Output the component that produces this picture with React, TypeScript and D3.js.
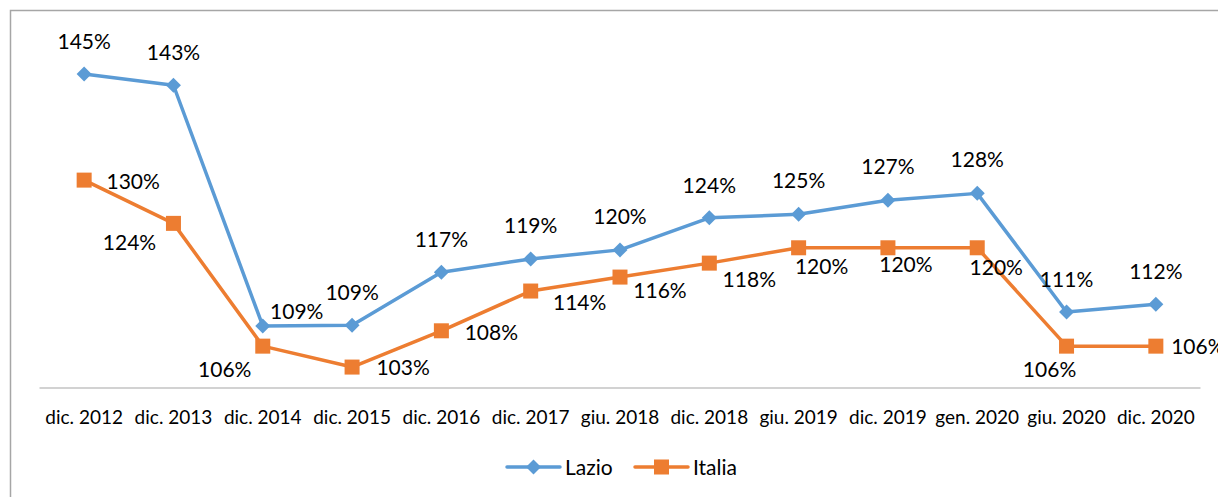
import React from "react";
import * as d3 from "d3";

const categories = ["dic. 2012","dic. 2013","dic. 2014","dic. 2015","dic. 2016","dic. 2017","giu. 2018","dic. 2018","giu. 2019","dic. 2019","gen. 2020","giu. 2020","dic. 2020"];
const lazio = [145.0,143.4,108.9,109.0,116.6,118.5,119.8,124.4,124.9,126.9,127.9,110.9,112.0];
const italia = [129.8,123.6,106.0,103.0,108.2,113.9,115.9,117.9,120.1,120.1,120.1,106.0,106.0];
const lazioLabels = ["145%","143%","109%","109%","117%","119%","120%","124%","125%","127%","128%","111%","112%"];
const italiaLabels = ["130%","124%","106%","103%","108%","114%","116%","118%","120%","120%","120%","106%","106%"];

// label offsets (dx, dy) relative to point
const lazioOff: [number, number][] = [[0,-32],[0,-32],[34,-14],[0,-32],[0,-32],[0,-33],[0,-33],[0,-32],[0,-33],[0,-33],[0,-33],[0,-32],[0,-32]];
const italiaOff: [number, number][] = [[49,2],[-44,20],[-38,24],[51,1],[50,2],[49,12],[40,14],[40,17],[23,19],[18,17],[19,20],[-17,24],[42,1]];

const W = 1218, H = 497;
const BLUE = "#5b9bd5", ORANGE = "#ed7d31";
const FONT = "Lato, 'Open Sans', sans-serif";

export default function App() {
  const x = d3.scaleBand().domain(categories).range([39.5, 1200.5]);
  const y = d3.scaleLinear().domain([100, 150]).range([388, 39.2]);
  const cx = (c: string) => (x(c) as number) + x.bandwidth() / 2;
  const line = d3.line<number>().x((_, i) => cx(categories[i])).y(d => y(d));
  const diamond = (px: number, py: number, r = 7.5) => `M${px},${py - r}L${px + r},${py}L${px},${py + r}L${px - r},${py}Z`;
  return (
    <svg width={W} height={H} style={{ position: "absolute", left: 0, top: 0, background: "#fff" }}>
      <rect x={0} y={0} width={W} height={H} fill="#fff" />
      <path d={`M10.5,${H}V10.5H${W}`} fill="none" stroke="#a6a6a6" strokeWidth={1.5} />
      <line x1={39.5} x2={1200.5} y1={388} y2={388} stroke="#a6a6a6" strokeWidth={1.2} />
      {categories.map(c => (
        <text key={c} x={cx(c)} y={424} textAnchor="middle" fontFamily={FONT} fontSize={19} fill="#000">{c}</text>
      ))}
      <path d={line(lazio) || ""} fill="none" stroke={BLUE} strokeWidth={3.5} strokeLinejoin="round" />
      <path d={line(italia) || ""} fill="none" stroke={ORANGE} strokeWidth={3.5} strokeLinejoin="round" />
      {lazio.map((v, i) => (
        <path key={"ld" + i} d={diamond(cx(categories[i]), y(v))} fill={BLUE} />
      ))}
      {italia.map((v, i) => (
        <rect key={"is" + i} x={cx(categories[i]) - 7.5} y={y(v) - 7.5} width={15} height={15} fill={ORANGE} />
      ))}
      {lazio.map((v, i) => (
        <text key={"ll" + i} x={cx(categories[i]) + lazioOff[i][0]} y={y(v) + lazioOff[i][1] + 7} textAnchor="middle" fontFamily={FONT} fontSize={21} fill="#000">{lazioLabels[i]}</text>
      ))}
      {italia.map((v, i) => (
        <text key={"il" + i} x={cx(categories[i]) + italiaOff[i][0]} y={y(v) + italiaOff[i][1] + 7} textAnchor="middle" fontFamily={FONT} fontSize={21} fill="#000">{italiaLabels[i]}</text>
      ))}
      <g>
        <line x1={507} x2={560} y1={467} y2={467} stroke={BLUE} strokeWidth={3.5} strokeLinecap="round" />
        <path d={diamond(533.5, 467)} fill={BLUE} />
        <text x={565} y={474.5} fontFamily={FONT} fontSize={21} fill="#000">Lazio</text>
        <line x1={635} x2={688} y1={467} y2={467} stroke={ORANGE} strokeWidth={3.5} strokeLinecap="round" />
        <rect x={654} y={459.5} width={15} height={15} fill={ORANGE} />
        <text x={693} y={474.5} fontFamily={FONT} fontSize={21} fill="#000">Italia</text>
      </g>
    </svg>
  );
}
